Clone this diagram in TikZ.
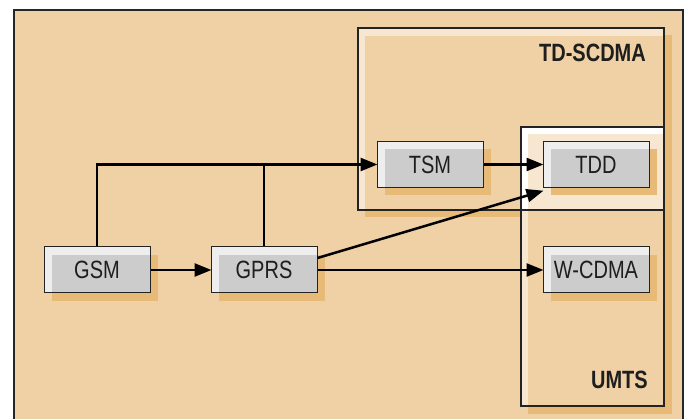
\documentclass[tikz,border=0pt]{standalone}
\usepackage{fontspec}
\setsansfont{Liberation Sans}[FakeStretch=0.8]
\usepackage{tikz}
\usetikzlibrary{calc}
\usetikzlibrary{arrows.meta}

\definecolor{bgorange}{RGB}{240,208,165}
\definecolor{lightcream}{RGB}{248,231,208}
\definecolor{shadeorange}{RGB}{232,186,120}
\definecolor{boxlight}{RGB}{238,238,238}
\definecolor{boxgray}{RGB}{204,204,204}
\definecolor{linegray}{RGB}{35,35,35}
\definecolor{textgray}{RGB}{30,30,30}

\newcommand{\sysfont}{\sffamily\fontsize{25}{28}\selectfont}
\newcommand{\grpfont}{\sffamily\bfseries\fontsize{25}{28}\selectfont}

\tikzset{
  sysbox/.style={draw=linegray, line width=1pt, fill=boxlight,
    minimum width=106pt, minimum height=46pt, inner sep=0pt,
    font=\sysfont, text=textgray,
    preaction={fill=shadeorange, transform canvas={xshift=8pt,yshift=-8pt}},
    path picture={\fill[boxgray] ([xshift=8pt,yshift=-8pt]path picture bounding box.north west)
      rectangle (path picture bounding box.south east);}},
  grpline/.style={draw=linegray, line width=1.2pt},
  grplabel/.style={anchor=base east, inner sep=0pt, font=\grpfont, text=textgray},
  link/.style={line width=2.5pt, black},
  flow/.style={link, -{Triangle[length=17pt,width=13pt]}, shorten >=-1pt},
}

\begin{document}
\begin{tikzpicture}[x=1pt,y=-1pt]
  \useasboundingbox (0,0) rectangle (691,419);

  % Rahmen
  \fill[white] (0,0) rectangle (691,419);
  \fill[bgorange] (14,10) rectangle (683,425);
  \draw[line width=1.6pt, black!85] (14,425) -- (14,10) -- (683,10) -- (683,425);

  % TD-SCDMA
  \fill[shadeorange] (365,35) rectangle (672,217);
  \fill[lightcream] (358,28) rectangle (664,210);
  \fill[bgorange] (365,36) rectangle (664,210);

  % UMTS
  \fill[shadeorange] (528,134) rectangle (672,414);
  \fill[lightcream] (521,127) rectangle (664,406);
  \fill[bgorange] (528,135) rectangle (664,406);

  % Ueberlappung
  \fill[white] (521,127) rectangle (664,210);
  \fill[lightcream] (528,134) rectangle (664,210);

  \draw[grpline] (358,28) rectangle (664,210);
  \draw[grpline] (521,127) rectangle (664,406);

  \node[grplabel] (tdlabel) at (646,62) {TD-SCDMA};
  \node[grplabel] (umtslabel) at (648,389) {UMTS};

  % Systeme
  \node[sysbox] (gsm) at (97,270) {GSM};
  \node[sysbox] (gprs) at (264,270) {GPRS};
  \node[sysbox] (tsm) at (430,164.5) {TSM};
  \node[sysbox] (tdd) at (596,164.5) {TDD};
  \node[sysbox] (wcdma) at (596,270) {W-CDMA};

  \coordinate (gprsout) at ($(gprs.east)+(0,-12)$);
  \coordinate (tddin) at ($(tdd.south west)+(0,3)$);

  % Pfeile
  \draw[flow] (gsm) -- (gprs);
  \draw[flow] (gsm.north) |- (tsm.west);
  \draw[link] (gprs.north) -- (gprs.north |- tsm.west);
  \draw[flow] (tsm) -- (tdd);
  \draw[flow] (gprs) -- (wcdma);
  \draw[flow] (gprsout) -- (tddin);
\end{tikzpicture}
\end{document}
